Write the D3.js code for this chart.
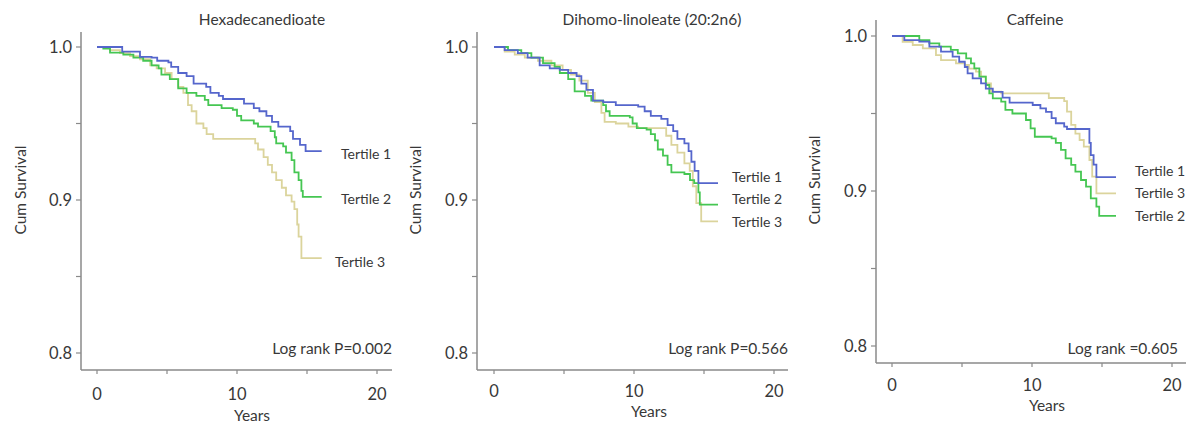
<!DOCTYPE html>
<html>
<head>
<meta charset="utf-8">
<script src="https://cdn.jsdelivr.net/npm/d3@7"></script>
<style>
  body { margin: 0; background: #fff; }
  text { font-family: Lato, "Open Sans", sans-serif; fill: #383838; }
</style>
</head>
<body>
<div id="chart"></div>
<script>
// data: [years, cumulative survival]
const hexT1 = [[0,1],[1.8,0.997],[2.1,0.997],[3.07,0.9935],[3.9,0.993],[4.3,0.991],[5.1,0.99],[5.3,0.987],[5.8,0.983],[6.4,0.981],[6.9,0.976],[7.8,0.974],[8.1,0.97],[8.7,0.968],[9.0,0.966],[10.5,0.963],[11.2,0.96],[11.6,0.958],[12.1,0.955],[12.5,0.951],[12.95,0.948],[13.8,0.945],[14.0,0.94],[14.5,0.936],[14.9,0.932],[16.05,0.932]]
const hexT2 = [[0,1],[0.45,0.999],[0.93,0.9963],[1.88,0.995],[2.6,0.993],[3.3,0.991],[3.9,0.988],[4.4,0.986],[4.6,0.982],[5.2,0.979],[5.8,0.973],[6.4,0.97],[7.1,0.968],[7.7,0.9654],[7.95,0.962],[8.9,0.96],[9.7,0.959],[10.0,0.955],[10.3,0.952],[11.2,0.95],[11.5,0.948],[12.4,0.945],[12.7,0.941],[12.8,0.937],[13.3,0.935],[13.5,0.931],[13.9,0.926],[14.1,0.918],[14.4,0.913],[14.6,0.906],[14.7,0.902],[16.05,0.902]]
const hexT3 = [[0,1],[0.93,0.998],[1.64,0.996],[2.36,0.994],[3.07,0.992],[3.8,0.988],[4.26,0.986],[4.86,0.983],[5.33,0.979],[5.8,0.974],[6.17,0.97],[6.5,0.962],[6.76,0.958],[7.1,0.95],[7.6,0.947],[7.83,0.943],[8.3,0.94],[11.3,0.937],[11.5,0.933],[11.9,0.928],[12.2,0.923],[12.5,0.918],[12.8,0.913],[13.2,0.908],[13.5,0.903],[13.9,0.899],[14.1,0.894],[14.3,0.884],[14.4,0.876],[14.6,0.862],[16.05,0.862]]

const dihT1 = [[0,1],[0.76,0.998],[1.7,0.996],[2.4,0.993],[3.26,0.988],[3.98,0.986],[4.7,0.985],[5.3,0.983],[5.9,0.981],[6.24,0.976],[6.6,0.972],[7.07,0.965],[7.8,0.964],[8.7,0.962],[10.3,0.961],[10.76,0.958],[11.2,0.955],[11.95,0.953],[12.4,0.949],[12.8,0.945],[13.1,0.94],[13.6,0.937],[13.9,0.932],[14.1,0.925],[14.33,0.919],[14.6,0.911],[16.0,0.911]]
const dihT2 = [[0,1],[1.0,0.998],[1.95,0.996],[2.67,0.993],[3.5,0.9895],[4.33,0.987],[4.7,0.983],[5.3,0.979],[5.76,0.971],[6.5,0.968],[6.95,0.965],[7.8,0.962],[8.0,0.958],[8.26,0.955],[9.7,0.954],[9.9,0.95],[10.2,0.947],[10.9,0.946],[11.2,0.943],[11.5,0.939],[11.7,0.933],[12.07,0.929],[12.4,0.923],[12.67,0.918],[13.6,0.917],[14.0,0.913],[14.3,0.911],[14.6,0.905],[14.7,0.897],[16.0,0.897]]
const dihT3 = [[0,1],[0.76,0.997],[1.48,0.995],[2.2,0.993],[3.14,0.991],[4.1,0.988],[4.9,0.985],[5.5,0.982],[6.1,0.978],[6.7,0.97],[7.2,0.964],[7.67,0.957],[7.9,0.951],[8.7,0.95],[9.6,0.948],[10.3,0.947],[12.3,0.942],[12.67,0.936],[13.1,0.931],[13.6,0.924],[13.98,0.919],[14.2,0.909],[14.45,0.898],[14.8,0.886],[16.0,0.886]]

const cafT1 = [[0,1],[0.88,0.9974],[1.95,0.9964],[2.67,0.9931],[3.5,0.9899],[4.33,0.9867],[4.8,0.9834],[5.2,0.98],[5.4,0.9759],[5.76,0.9727],[6.36,0.9694],[6.7,0.966],[7.2,0.964],[7.9,0.9602],[8.4,0.957],[10.05,0.9555],[10.6,0.9533],[11.0,0.951],[11.4,0.947],[11.7,0.9437],[12.3,0.9415],[12.5,0.94],[14.1,0.931],[14.2,0.9232],[14.4,0.917],[14.6,0.909],[16.0,0.909]]
const cafT2 = [[0,1],[1.95,0.9974],[2.67,0.9953],[3.38,0.9931],[4.2,0.991],[4.7,0.9888],[5.3,0.9856],[5.64,0.9824],[5.88,0.9791],[6.24,0.9738],[6.7,0.9684],[6.95,0.963],[7.2,0.9598],[7.8,0.9576],[8.1,0.9523],[8.6,0.95],[9.57,0.9458],[9.9,0.9404],[10.2,0.935],[11.4,0.934],[11.7,0.931],[12.07,0.9265],[12.4,0.9211],[12.8,0.9168],[13.1,0.9125],[13.5,0.9071],[13.86,0.9028],[14.2,0.8953],[14.6,0.8899],[14.8,0.884],[16.0,0.884]]
const cafT3 = [[0,1],[0.76,0.9963],[1.48,0.9942],[2.2,0.992],[3.14,0.9877],[3.5,0.9845],[4.57,0.9824],[5.2,0.9813],[5.5,0.979],[6.0,0.977],[6.36,0.9738],[6.7,0.9695],[7.07,0.9641],[7.8,0.963],[11.2,0.96],[12.3,0.958],[12.5,0.9512],[12.8,0.9426],[13.1,0.937],[13.4,0.9329],[13.7,0.9286],[14.1,0.92],[14.3,0.9093],[14.6,0.8985],[16.0,0.8985]]

const titles = ["Hexadecanedioate", "Dihomo-linoleate (20:2n6)", "Caffeine"]
const pLabels = ["Log rank P=0.002", "Log rank P=0.566", "Log rank =0.605"]
const xTicks = [0, 5, 10, 15, 20]
const yTicks = [0.8, 0.85, 0.9, 0.95, 1.0]
const yLabelTicks = [0.8, 0.9, 1.0]
const tertileNames = ["Tertile 1", "Tertile 2", "Tertile 3"]

const colors = ["#5566cc", "#45c652", "#dbd49c"]

// layout of each panel in the picture
const panels = [
  { series: [hexT1, hexT2, hexT3], axX: 81, x0: 97, x20: 377, axRight: 392, axTop: 32, axY: 370, y1: 47, y08: 353,
    tickLabY: 394, yearsY: 416, ylabX: 21, ylabY: 190, titleX: 262, logX: 392, logY: 354,
    legend: [[341, 159], [341, 204], [335, 267]] },
  { series: [dihT1, dihT2, dihT3], axX: 477, x0: 494, x20: 774, axRight: 788, axTop: 32, axY: 370, y1: 47, y08: 353,
    tickLabY: 391, yearsY: 412, ylabX: 416, ylabY: 190, titleX: 652, logX: 788, logY: 354,
    legend: [[732, 182], [732, 204], [732, 227]] },
  { series: [cafT1, cafT2, cafT3], axX: 876, x0: 892, x20: 1172, axRight: 1186, axTop: 20, axY: 363, y1: 36, y08: 346,
    tickLabY: 385, yearsY: 406, ylabX: 815, ylabY: 180, titleX: 1035, logX: 1178, logY: 354,
    legend: [[1135, 176], [1135, 221], [1135, 198]] }
]

const svg = d3.select("#chart")
  .append("svg")
    .attr("width", 1196)
    .attr("height", 429)

panels.forEach((p, i) => {
  const x = d3.scaleLinear().domain([0, 20]).range([p.x0, p.x20])
  const y = d3.scaleLinear().domain([0.8, 1.0]).range([p.y08, p.y1])
  const g = svg.append("g")

  // axes
  g.append("line")
    .attr("x1", p.axX).attr("x2", p.axX)
    .attr("y1", p.axTop).attr("y2", p.axY)
    .style("stroke", "#8a8a8a").style("stroke-width", 1.5)
  g.append("line")
    .attr("x1", p.axX).attr("x2", p.axRight)
    .attr("y1", p.axY).attr("y2", p.axY)
    .style("stroke", "#8a8a8a").style("stroke-width", 1.5)

  g.selectAll(".yt")
    .data(yTicks)
    .enter()
    .append("line")
      .attr("x1", p.axX - 5).attr("x2", p.axX)
      .attr("y1", d => y(d)).attr("y2", d => y(d))
      .style("stroke", "#8a8a8a").style("stroke-width", 1.2)

  g.selectAll(".ytl")
    .data(yLabelTicks)
    .enter()
    .append("text")
      .attr("x", p.axX - 9)
      .attr("y", d => y(d) + 6)
      .attr("text-anchor", "end")
      .style("font-size", "16.5px")
      .text(d => d.toFixed(1))

  g.selectAll(".xt")
    .data(xTicks)
    .enter()
    .append("line")
      .attr("x1", d => x(d)).attr("x2", d => x(d))
      .attr("y1", p.axY).attr("y2", p.axY + 4)
      .style("stroke", "#8a8a8a").style("stroke-width", 1.2)

  g.selectAll(".xtl")
    .data(xTicks.filter(d => d % 10 === 0))
    .enter()
    .append("text")
      .attr("x", d => x(d))
      .attr("y", p.tickLabY + 6)
      .attr("text-anchor", "middle")
      .style("font-size", "16.5px")
      .text(d => d)

  // labels
  g.append("text")
    .attr("x", (p.x0 + p.x20) / 2 + 15)
    .attr("y", p.yearsY + 5)
    .attr("text-anchor", "middle")
    .style("font-size", "15.5px")
    .text("Years")

  g.append("text")
    .attr("transform", `translate(${p.ylabX + 5},${p.ylabY}) rotate(-90)`)
    .attr("text-anchor", "middle")
    .style("font-size", "15.5px")
    .text("Cum Survival")

  g.append("text")
    .attr("x", p.titleX)
    .attr("y", 25)
    .attr("text-anchor", "middle")
    .style("font-size", "15.5px")
    .text(titles[i])

  g.append("text")
    .attr("x", p.logX)
    .attr("y", p.logY)
    .attr("text-anchor", "end")
    .style("font-size", "15.5px")
    .text(pLabels[i])

  // survival curves
  const line = d3.line()
    .x(d => x(d[0]))
    .y(d => y(d[1]))
    .curve(d3.curveStepAfter)

  // draw tertile 3 first so the others sit above it
  ;[2, 1, 0].forEach(k => {
    g.append("path")
      .datum(p.series[k])
      .attr("d", line)
      .style("fill", "none")
      .style("stroke", colors[k])
      .style("stroke-width", 1.8)
  })

  g.selectAll(".leg")
    .data(tertileNames)
    .enter()
    .append("text")
      .attr("x", (d, k) => p.legend[k][0])
      .attr("y", (d, k) => p.legend[k][1])
      .style("font-size", "14px")
      .text(d => d)
})
</script>
</body>
</html>
